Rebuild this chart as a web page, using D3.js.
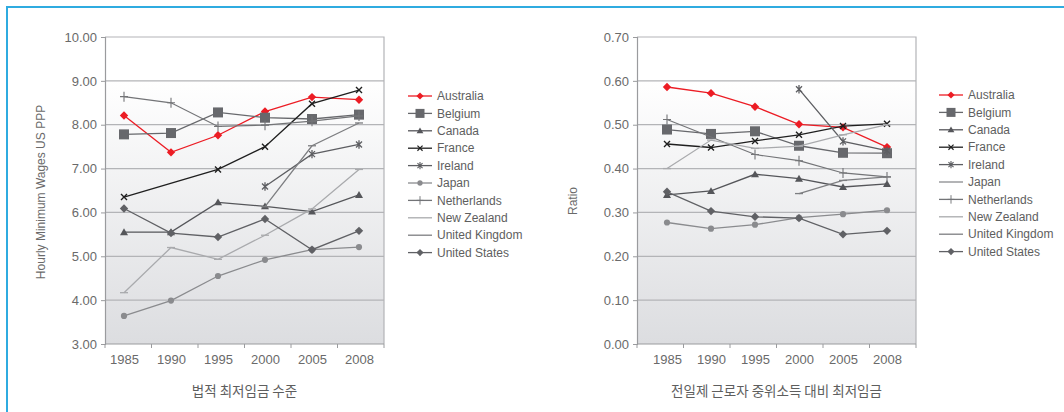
<!DOCTYPE html>
<html>
<head>
<meta charset="utf-8">
<script src="https://cdn.jsdelivr.net/npm/d3@7"></script>
<style>
  body { margin: 0; background: #fff; }
  svg { display: block; }
  text { font-family: "Liberation Sans", Arial, sans-serif; }
  .kr { font-family: "Noto Sans CJK KR", sans-serif; }
</style>
</head>
<body>
<svg id="chart" width="1064" height="412"></svg>
<script>
// ---- data ----
const years = ["1985", "1990", "1995", "2000", "2005", "2008"];
const countries = ["Australia", "Belgium", "Canada", "France", "Ireland", "Japan",
  "Netherlands", "New Zealand", "United Kingdom", "United States"];

const wageTicks = [3, 4, 5, 6, 7, 8, 9, 10];
const ratioTicks = [0, 0.1, 0.2, 0.3, 0.4, 0.5, 0.6, 0.7];

// Hourly minimum wages, US PPP
const wageAustralia   = [8.21, 7.37, 7.76, 8.30, 8.63, 8.57];
const wageBelgium     = [7.78, 7.81, 8.28, 8.16, 8.13, 8.23];
const wageCanada      = [5.55, 5.55, 6.23, 6.14, 6.02, 6.40];
const wageFrance      = [6.35, null, 6.98, 7.50, 8.48, 8.79];
const wageIreland     = [null, null, null, 6.59, 7.33, 7.55];
const wageJapan       = [3.64, 3.99, 4.55, 4.92, 5.15, 5.21];
const wageNetherlands = [8.64, 8.50, 7.96, 7.99, 8.08, 8.20];
const wageNewZealand  = [4.17, 5.20, 4.93, 5.48, 6.08, 6.98];
const wageUK          = [null, null, null, 6.13, 7.52, 8.04];
const wageUS          = [6.09, 5.53, 5.44, 5.85, 5.15, 5.58];

// Minimum wage relative to full-time median earnings
const ratioAustralia   = [0.586, 0.572, 0.541, 0.501, 0.494, 0.449];
const ratioBelgium     = [0.489, 0.479, 0.485, 0.452, 0.436, 0.435];
const ratioCanada      = [0.340, 0.349, 0.387, 0.377, 0.358, 0.365];
const ratioFrance      = [0.456, 0.448, 0.463, 0.477, 0.497, 0.502];
const ratioIreland     = [null, null, null, 0.581, 0.462, 0.441];
const ratioJapan       = [0.277, 0.263, 0.272, 0.288, 0.296, 0.305];
const ratioNetherlands = [0.512, null, 0.432, 0.418, 0.390, 0.381];
const ratioNewZealand  = [0.400, 0.465, 0.446, 0.451, 0.477, 0.500];
const ratioUK          = [null, null, null, 0.343, 0.373, 0.381];
const ratioUS          = [0.347, 0.303, 0.290, 0.287, 0.250, 0.258];

// ---- series styles ----
const styles = {
  "Australia":      { color: "#ec1c24", marker: "diamond", width: 1.3 },
  "Belgium":        { color: "#67686c", marker: "square",  width: 1.3 },
  "Canada":         { color: "#55565a", marker: "triangle",width: 1.3 },
  "France":         { color: "#1f1f1f", marker: "times",   width: 1.3 },
  "Ireland":        { color: "#5d5e62", marker: "asterisk",width: 1.3 },
  "Japan":          { color: "#8a8b8e", marker: "circle",  width: 1.3 },
  "Netherlands":    { color: "#737477", marker: "plus",    width: 1.2 },
  "New Zealand":    { color: "#a9aaad", marker: "dash",    width: 1.3 },
  "United Kingdom": { color: "#7d7e81", marker: "dash",    width: 1.3 },
  "United States":  { color: "#606165", marker: "diamond", width: 1.3 }
};

const textColor = "#6a6a6a";

const svg = d3.select("#chart");
const defs = svg.append("defs");
const grad = defs.append("linearGradient").attr("id", "plotBg")
  .attr("x1", 0).attr("y1", 0).attr("x2", 0).attr("y2", 1);
grad.append("stop").attr("offset", "0%").attr("stop-color", "#ffffff");
grad.append("stop").attr("offset", "14%").attr("stop-color", "#ffffff");
grad.append("stop").attr("offset", "100%").attr("stop-color", "#dcdde0");

// outer frame
svg.append("path")
  .attr("d", "M7,420 L7,7 L1070,7")
  .attr("fill", "none").attr("stroke", "#2fabe0").attr("stroke-width", 2);

function drawMarker(g, type, cx, cy, color, scale) {
  const s = scale || 1;
  const m = g.append("g").attr("transform", `translate(${cx},${cy}) scale(${s})`);
  switch (type) {
    case "diamond":
      m.append("path").attr("d", "M0,-4.2L4.2,0L0,4.2L-4.2,0Z").attr("fill", color);
      break;
    case "square":
      m.append("rect").attr("x", -5).attr("y", -5).attr("width", 10).attr("height", 10).attr("fill", color);
      break;
    case "triangle":
      m.append("path").attr("d", "M0,-3.8L4,3L-4,3Z").attr("fill", color);
      break;
    case "circle":
      m.append("circle").attr("r", 3.1).attr("fill", color);
      break;
    case "times":
      m.append("path").attr("d", "M-3,-3L3,3M3,-3L-3,3").attr("stroke", color).attr("stroke-width", 1.4);
      break;
    case "asterisk":
      m.append("path").attr("d", "M-3,-3L3,3M3,-3L-3,3M0,-4.2L0,4.2").attr("stroke", color).attr("stroke-width", 1.3);
      break;
    case "plus":
      m.append("path").attr("d", "M0,-5L0,5M-4,0L4,0").attr("stroke", color).attr("stroke-width", 1.1);
      break;
    case "dash":
      m.append("path").attr("d", "M-4,0L4,0").attr("stroke", color).attr("stroke-width", 1.3);
      break;
  }
}

function drawChart(cfg) {
  const { x0, x1, y0, y1 } = cfg;
  const g = svg.append("g");

  const x = d3.scalePoint().domain(years).range([cfg.px0, cfg.px1]);
  const y = d3.scaleLinear().domain(cfg.domain).range([y1, y0]);

  // plot background
  g.append("rect").attr("x", x0).attr("y", y0).attr("width", x1 - x0).attr("height", y1 - y0)
    .attr("fill", "url(#plotBg)");

  // horizontal gridlines
  g.append("g").selectAll("line").data(cfg.ticks.slice(1, -1)).join("line")
    .attr("x1", x0).attr("x2", x1)
    .attr("y1", d => y(d)).attr("y2", d => y(d))
    .attr("stroke", "#b3b4b7").attr("stroke-width", 1.2);

  // plot border
  g.append("path").attr("d", `M${x0},${y0}H${x1}V${y1}`)
    .attr("fill", "none").attr("stroke", "#b3b4b7").attr("stroke-width", 1.2);

  // y axis
  const yAxis = g.append("g").attr("transform", `translate(${x0},0)`)
    .call(d3.axisLeft(y).tickValues(cfg.ticks).tickFormat(d3.format(".2f")).tickSize(4).tickPadding(4));
  yAxis.select(".domain").attr("stroke", "#9a9b9e").attr("stroke-width", 1.2);
  yAxis.selectAll(".tick line").attr("stroke", "#9a9b9e");
  yAxis.selectAll(".tick text").attr("fill", textColor).style("font-size", "13px")
    .style("font-family", "'Liberation Sans', Arial, sans-serif");

  // x axis: category labels at the points, tick marks between categories
  const xAxis = g.append("g").attr("transform", `translate(0,${y1})`)
    .call(d3.axisBottom(x).tickSize(0).tickPadding(11));
  xAxis.select(".domain").remove();
  xAxis.selectAll(".tick text").attr("fill", textColor).style("font-size", "13px")
    .style("font-family", "'Liberation Sans', Arial, sans-serif");
  const bounds = d3.range(years.length + 1).map(i => x0 + i * (x1 - x0) / years.length);
  g.append("line").attr("x1", x0).attr("x2", x1).attr("y1", y1).attr("y2", y1)
    .attr("stroke", "#9a9b9e").attr("stroke-width", 1.2);
  g.append("g").selectAll("line").data(bounds).join("line")
    .attr("x1", d => d).attr("x2", d => d).attr("y1", y1).attr("y2", y1 + 4)
    .attr("stroke", "#9a9b9e");

  // axis titles
  g.append("text")
    .attr("transform", `translate(${cfg.yTitleX},${cfg.yTitleY}) rotate(-90)`)
    .attr("text-anchor", "middle").attr("fill", textColor).style("font-size", "12px")
    .text(cfg.yTitle);
  g.append("text").attr("class", "kr")
    .attr("x", (x0 + x1) / 2).attr("y", 396)
    .attr("text-anchor", "middle").attr("fill", "#5e5e5e").style("font-size", "13.5px")
    .text(cfg.xTitle);

  // series lines (missing years are bridged) and markers
  const line = d3.line().x(d => x(d.year)).y(d => y(d.value));
  cfg.series.forEach((vals, i) => {
    const name = countries[i];
    const st = styles[name];
    const pts = years.map((yr, j) => ({ year: yr, value: vals[j] })).filter(d => d.value !== null);
    g.append("path").datum(pts).attr("d", line)
      .attr("fill", "none").attr("stroke", st.color).attr("stroke-width", st.width);
    const mg = g.append("g");
    pts.forEach(d => drawMarker(mg, st.marker, x(d.year), y(d.value), st.color));
  });

  // legend
  const lg = g.append("g");
  countries.forEach((name, i) => {
    const st = styles[name];
    const ly = cfg.legendY + i * 17.4;
    lg.append("line").attr("x1", cfg.legendX).attr("x2", cfg.legendX + 24)
      .attr("y1", ly).attr("y2", ly).attr("stroke", st.color).attr("stroke-width", 1.3);
    const showMarker = st.marker !== "dash" && !(cfg.plainLegend || []).includes(name);
    if (showMarker) drawMarker(lg, st.marker, cfg.legendX + 12, ly, st.color, name === "Belgium" ? 0.9 : 0.85);
    lg.append("text").attr("x", cfg.legendX + 29).attr("y", ly).attr("dy", "0.35em")
      .attr("fill", "#5e5e5e").style("font-size", "12px").text(name);
  });
}

drawChart({
  x0: 105, x1: 384, y0: 37, y1: 344, px0: 124, px1: 359,
  domain: [3, 10], ticks: wageTicks,
  series: [wageAustralia, wageBelgium, wageCanada, wageFrance, wageIreland, wageJapan,
           wageNetherlands, wageNewZealand, wageUK, wageUS],
  yTitle: "Hourly Minimum Wages US PPP", yTitleX: 45, yTitleY: 192,
  xTitle: "법적 최저임금 수준",
  legendX: 408, legendY: 96
});

drawChart({
  x0: 637, x1: 916, y0: 37, y1: 344, px0: 667, px1: 887,
  domain: [0, 0.7], ticks: ratioTicks,
  series: [ratioAustralia, ratioBelgium, ratioCanada, ratioFrance, ratioIreland, ratioJapan,
           ratioNetherlands, ratioNewZealand, ratioUK, ratioUS],
  yTitle: "Ratio", yTitleX: 577, yTitleY: 201,
  xTitle: "전일제 근로자 중위소득 대비 최저임금",
  legendX: 939, legendY: 95, plainLegend: ["Japan"]
});
</script>
</body>
</html>
